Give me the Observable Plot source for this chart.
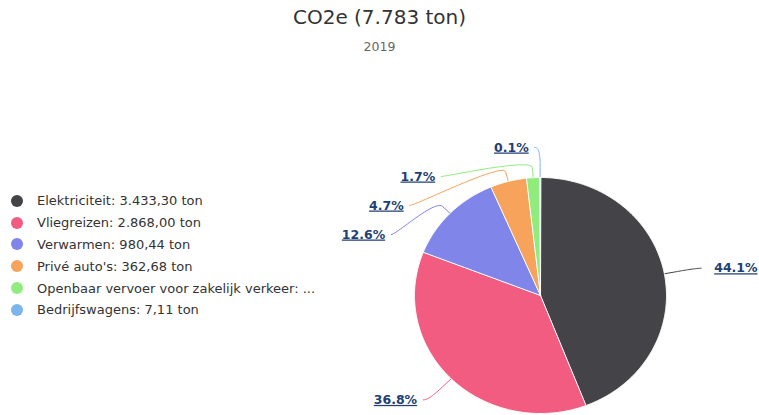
<!DOCTYPE html>
<html><head><meta charset="utf-8">
<script src="https://cdn.jsdelivr.net/npm/d3@7"></script>
<script src="https://cdn.jsdelivr.net/npm/@observablehq/plot@0.6"></script>
<style>
body{margin:0;background:#fff;font-family:"DejaVu Sans",sans-serif;}
#wrap{position:relative;width:759px;height:415px;overflow:hidden;background:#fff;}
#head{height:60px;position:relative;}
#title{position:absolute;top:5px;left:0;width:759px;text-align:center;font-size:20px;color:#333;}
#subtitle{position:absolute;top:39px;left:0;width:759px;text-align:center;font-size:12.5px;color:#666;}
#legend{position:absolute;left:11px;top:190px;}
.item{height:21.8px;display:flex;align-items:center;font-size:13px;color:#333;white-space:nowrap;}
.sw{width:12px;height:12px;border-radius:50%;margin-right:14px;flex:none;}
g[aria-label="text"] text{text-decoration:underline;}
</style></head>
<body><div id="wrap"><div id="head"><div id="title"></div><div id="subtitle"></div></div><div id="chart"></div><div id="legend"></div></div>
<script>
const categories = ["Elektriciteit","Vliegreizen","Verwarmen","Privé auto's","Openbaar vervoer voor zakelijk verkeer","Bedrijfswagens"];
const values = [3433.30, 2868.00, 980.44, 362.68, 131.47, 7.11];
const colors = ["#434348","#f15c80","#8085e9","#f7a35c","#90ed7d","#7cb5ec"];
const titleLabel = "CO2e";
const unit = "ton";
const year = "2019";

const nl = d3.formatLocale({decimal:",", thousands:".", grouping:[3], currency:["",""]});
const total = d3.sum(values);
document.getElementById("title").textContent = `${titleLabel} (${nl.format(",.0f")(total)} ${unit})`;
document.getElementById("subtitle").textContent = year;

// layout constants (pixels)
const W = 759, H = 355, cx = 540, cy = 235, rx = 126, ry = 118;
const R = 1 + 30/ry, breakR = 1 + 10/ry, pad = 5/ry, spacing = 29/ry;

// slices
let acc = 0;
const slices = categories.map((name, i) => {
  const a0 = acc / total * 2 * Math.PI; acc += values[i];
  const a1 = acc / total * 2 * Math.PI;
  return {name, value: values[i], a0, a1, mid: (a0 + a1) / 2};
});
const slicePts = [];
for (const s of slices) {
  slicePts.push({name: s.name, x: 0, y: 0});
  const n = Math.max(2, Math.ceil((s.a1 - s.a0) / (Math.PI / 360)));
  for (let k = 0; k <= n; k++) {
    const a = s.a0 + (s.a1 - s.a0) * k / n;
    slicePts.push({name: s.name, x: Math.sin(a), y: Math.cos(a)});
  }
}

// label layout (Highcharts-like)
const labels = slices.map(s => ({...s, left: s.mid > Math.PI, ny: R * Math.cos(s.mid)}));
for (const side of [true, false]) {
  const grp = labels.filter(l => l.left === side).sort((a, b) => b.ny - a.ny);
  let prev = Infinity;
  for (const l of grp) { l.ly = Math.min(l.ny, prev - spacing); prev = l.ly; }
}
for (const l of labels) {
  const dx = Math.sqrt(Math.max(0, R * R - l.ly * l.ly));
  l.lx = l.left ? -dx - pad : dx + pad;
  l.text = d3.format(".1f")(l.value / total * 100) + "%";
}
const connPts = [];
for (const l of labels) {
  const tx = Math.sin(l.mid), ty = Math.cos(l.mid);
  const bx = tx * breakR, by = ty * breakR;
  const p0 = [l.lx, l.ly], c1 = [l.lx + (l.left ? pad : -pad), l.ly], c2 = [2*bx - tx, 2*by - ty], p3 = [bx, by];
  for (let k = 0; k <= 24; k++) {
    const t = k / 24, u = 1 - t;
    const x = u*u*u*p0[0] + 3*u*u*t*c1[0] + 3*u*t*t*c2[0] + t*t*t*p3[0];
    const y = u*u*u*p0[1] + 3*u*u*t*c1[1] + 3*u*t*t*c2[1] + t*t*t*p3[1];
    connPts.push({name: l.name, x, y});
  }
  connPts.push({name: l.name, x: tx, y: ty});
}

const labelColor = "#213f74";
const plot = Plot.plot({
  width: W, height: H, margin: 0,
  x: {domain: [-1, 1], range: [cx - rx, cx + rx], axis: null},
  y: {domain: [-1, 1], range: [cy + ry, cy - ry], axis: null},
  color: {domain: categories, range: colors},
  style: {fontFamily: "DejaVu Sans", fontSize: "12.5px", background: "white", overflow: "visible"},
  marks: [
    Plot.line(connPts, {x: "x", y: "y", z: "name", stroke: "name", strokeWidth: 1, curve: "linear"}),
    Plot.line(slicePts, {x: "x", y: "y", z: "name", fill: "name", stroke: "white", strokeWidth: 1, curve: "linear-closed"}),
    Plot.text(labels.filter(l => l.left), {x: "lx", y: "ly", text: "text", textAnchor: "end", dx: -6, fill: labelColor, fontWeight: "bold"}),
    Plot.text(labels.filter(l => !l.left), {x: "lx", y: "ly", text: "text", textAnchor: "start", dx: 13, fill: labelColor, fontWeight: "bold"})
  ]
});
document.getElementById("chart").appendChild(plot);

// legend
const color = plot.scale("color");
const fmt = nl.format(",.2f");
const maxChars = 40;
const legend = document.getElementById("legend");
categories.forEach((c, i) => {
  let t = `${c}: ${fmt(values[i])} ${unit}`;
  if (t.length > maxChars) { t = t.slice(0, maxChars); t = t.slice(0, t.lastIndexOf(" ")) + " ..."; }
  const item = document.createElement("div"); item.className = "item";
  const sw = document.createElement("span"); sw.className = "sw"; sw.style.background = color.apply(c);
  const tx = document.createElement("span"); tx.textContent = t;
  item.appendChild(sw); item.appendChild(tx); legend.appendChild(item);
});
</script></body></html>
